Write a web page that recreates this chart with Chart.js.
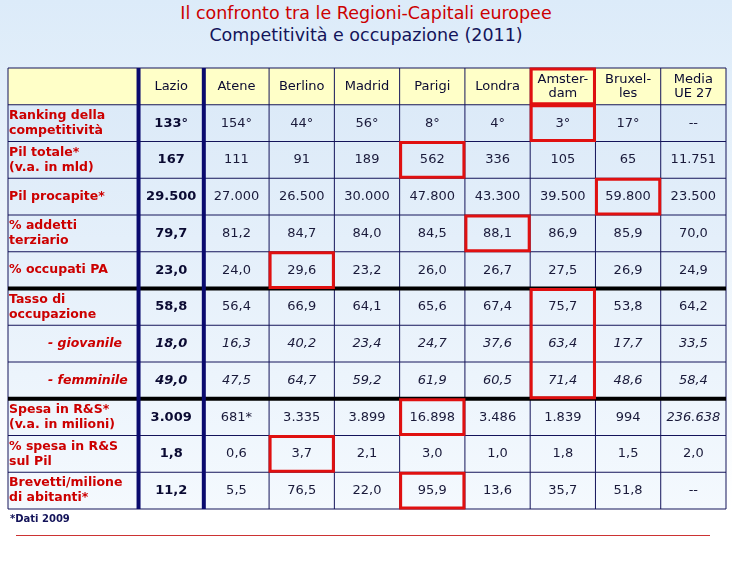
<!DOCTYPE html>
<html>
<head>
<meta charset="utf-8">
<script src="https://cdn.jsdelivr.net/npm/chart.js@4"></script>
<style>
  body { margin: 0; width: 732px; height: 567px; overflow: hidden; font-family: "DejaVu Sans", sans-serif;
         background: linear-gradient(#dcebf9, #ffffff 90%); position: relative; }
  #t1 { position: absolute; top: 3px; width: 732px; text-align: center; color: #cc0000; font-size: 17.5px; }
  #t2 { position: absolute; top: 25px; width: 732px; text-align: center; color: #14145a; font-size: 17.5px; }
  #note { position: absolute; top: 513px; left: 10px; font-size: 10px; font-weight: bold; color: #14145a; }
  #rule { position: absolute; top: 535px; left: 16px; width: 694px; height: 1px; background: #cc3333; }
  canvas { position: absolute; left: 0; top: 0; }
</style>
</head>
<body>
<div id="t1">Il confronto tra le Regioni-Capitali europee</div>
<div id="t2">Competitività e occupazione (2011)</div>
<canvas id="tabella" width="732" height="567"></canvas>
<div id="note">*Dati 2009</div>
<div id="rule"></div>
<script>
const colonne = ['Lazio', 'Atene', 'Berlino', 'Madrid', 'Parigi', 'Londra', 'Amster-\ndam', 'Bruxel-\nles', 'Media\nUE 27'];
const righe = ['Ranking della\ncompetitività', 'Pil totale*\n(v.a. in mld)', 'Pil procapite*', '% addetti\nterziario',
  '% occupati PA', 'Tasso di\noccupazione', '- giovanile', '- femminile', 'Spesa in R&S*\n(v.a. in milioni)',
  '% spesa in R&S\nsul Pil', 'Brevetti/milione\ndi abitanti*'];
const valori = [
  ['133°', '154°', '44°', '56°', '8°', '4°', '3°', '17°', '--'],
  ['167', '111', '91', '189', '562', '336', '105', '65', '11.751'],
  ['29.500', '27.000', '26.500', '30.000', '47.800', '43.300', '39.500', '59.800', '23.500'],
  ['79,7', '81,2', '84,7', '84,0', '84,5', '88,1', '86,9', '85,9', '70,0'],
  ['23,0', '24,0', '29,6', '23,2', '26,0', '26,7', '27,5', '26,9', '24,9'],
  ['58,8', '56,4', '66,9', '64,1', '65,6', '67,4', '75,7', '53,8', '64,2'],
  ['18,0', '16,3', '40,2', '23,4', '24,7', '37,6', '63,4', '17,7', '33,5'],
  ['49,0', '47,5', '64,7', '59,2', '61,9', '60,5', '71,4', '48,6', '58,4'],
  ['3.009', '681*', '3.335', '3.899', '16.898', '3.486', '1.839', '994', '236.638'],
  ['1,8', '0,6', '3,7', '2,1', '3,0', '1,0', '1,8', '1,5', '2,0'],
  ['11,2', '5,5', '76,5', '22,0', '95,9', '13,6', '35,7', '51,8', '--']
];
// evidenziati: [riga (-1 = intestazione), colonna, righe occupate]
const evidenziati = [[-1, 6, 1], [0, 6, 1], [1, 4, 1], [2, 7, 1], [3, 5, 1], [4, 2, 1], [5, 6, 3], [8, 4, 1], [9, 2, 1], [10, 4, 1]];
const righeCorsivo = [6, 7];

// punti invisibili al centro di ogni cella
const punti = [];
valori.forEach((r, i) => r.forEach((v, j) => punti.push({ x: j + 2.5, y: i + 1.5, v: v, r: i, c: j })));

const NAVY = '#14145a';

const disegnaTabella = {
  id: 'disegnaTabella',
  beforeDatasetsDraw(chart) {
    const { ctx, scales: { x, y } } = chart;
    const px = v => x.getPixelForValue(v), py = v => y.getPixelForValue(v);
    ctx.save();
    // sfondi
    const g = ctx.createLinearGradient(0, py(1), 0, py(12));
    g.addColorStop(0, '#dceaf8'); g.addColorStop(1, '#f4f9fe');
    ctx.fillStyle = g;
    ctx.fillRect(px(0), py(1), px(11) - px(0), py(12) - py(1));
    ctx.fillStyle = '#ffffc8';
    ctx.fillRect(px(0), py(0), px(11) - px(0), py(1) - py(0));
    // griglia
    ctx.strokeStyle = NAVY; ctx.lineWidth = 1;
    for (let k = 0; k <= 12; k++) {
      ctx.beginPath(); ctx.moveTo(px(0), py(k)); ctx.lineTo(px(11), py(k)); ctx.stroke();
    }
    [0, 2, 3, 4, 5, 6, 7, 8, 9, 10, 11].forEach(k => {
      ctx.beginPath(); ctx.moveTo(px(k), py(0)); ctx.lineTo(px(k), py(12)); ctx.stroke();
    });
    ctx.strokeStyle = '#000'; ctx.lineWidth = 4;
    [6, 9].forEach(k => { ctx.beginPath(); ctx.moveTo(px(0), py(k)); ctx.lineTo(px(11), py(k)); ctx.stroke(); });
    ctx.strokeStyle = '#0a0a6e'; ctx.lineWidth = 4;
    [2, 3].forEach(k => { ctx.beginPath(); ctx.moveTo(px(k), py(0)); ctx.lineTo(px(k), py(12)); ctx.stroke(); });

    // testi intestazione
    ctx.fillStyle = '#0a0a32'; ctx.textAlign = 'center'; ctx.textBaseline = 'middle';
    ctx.font = '13px "DejaVu Sans"';
    colonne.forEach((c, j) => {
      const lines = c.split('\n');
      lines.forEach((l, k) => ctx.fillText(l, px(j + 2.5), py(0.5) + (k - (lines.length - 1) / 2) * 14));
    });
    // etichette righe
    ctx.fillStyle = '#cc0000'; ctx.textAlign = 'left';
    righe.forEach((r, i) => {
      const corsivo = righeCorsivo.includes(i);
      ctx.font = (corsivo ? 'italic ' : '') + 'bold 12.5px "DejaVu Sans"';
      const lines = r.split('\n');
      const xx = corsivo ? px(0) + 40 : px(0) + 1;
      lines.forEach((l, k) => ctx.fillText(l, xx, py(i + 1.5) + (k - (lines.length - 1) / 2) * 15));
    });
    ctx.restore();
  },
  afterDatasetsDraw(chart) {
    const { ctx, scales: { x, y } } = chart;
    const px = v => x.getPixelForValue(v), py = v => y.getPixelForValue(v);
    ctx.save();
    ctx.textAlign = 'center'; ctx.textBaseline = 'middle';
    punti.forEach(p => {
      const corsivo = righeCorsivo.includes(p.r) || (p.r === 8 && p.c === 8);
      ctx.font = (corsivo ? 'italic ' : '') + (p.c === 0 ? 'bold ' : '') + '13px "DejaVu Sans"';
      ctx.fillStyle = p.c === 0 ? '#0a0a32' : '#1a1a3a';
      ctx.fillText(p.v, px(p.x), py(p.y));
    });
    ctx.strokeStyle = '#e01010'; ctx.lineWidth = 3;
    evidenziati.forEach(([r, c, n]) => {
      ctx.strokeRect(px(c + 2) + 1, py(r + 1) + 1, px(c + 3) - px(c + 2) - 2, py(r + 1 + n) - py(r + 1) - 2);
    });
    ctx.restore();
  }
};

new Chart(document.getElementById('tabella'), {
  type: 'scatter',
  data: { datasets: [{ data: punti, pointRadius: 0, pointHoverRadius: 0 }] },
  options: {
    responsive: false,
    animation: false,
    layout: { padding: { left: 8, right: 6, top: 68, bottom: 58 } },
    plugins: { legend: { display: false }, tooltip: { enabled: false } },
    scales: {
      x: { type: 'linear', min: 0, max: 11, display: false },
      y: { type: 'linear', min: 0, max: 12, reverse: true, display: false }
    }
  },
  plugins: [disegnaTabella]
});
</script>
</body>
</html>
